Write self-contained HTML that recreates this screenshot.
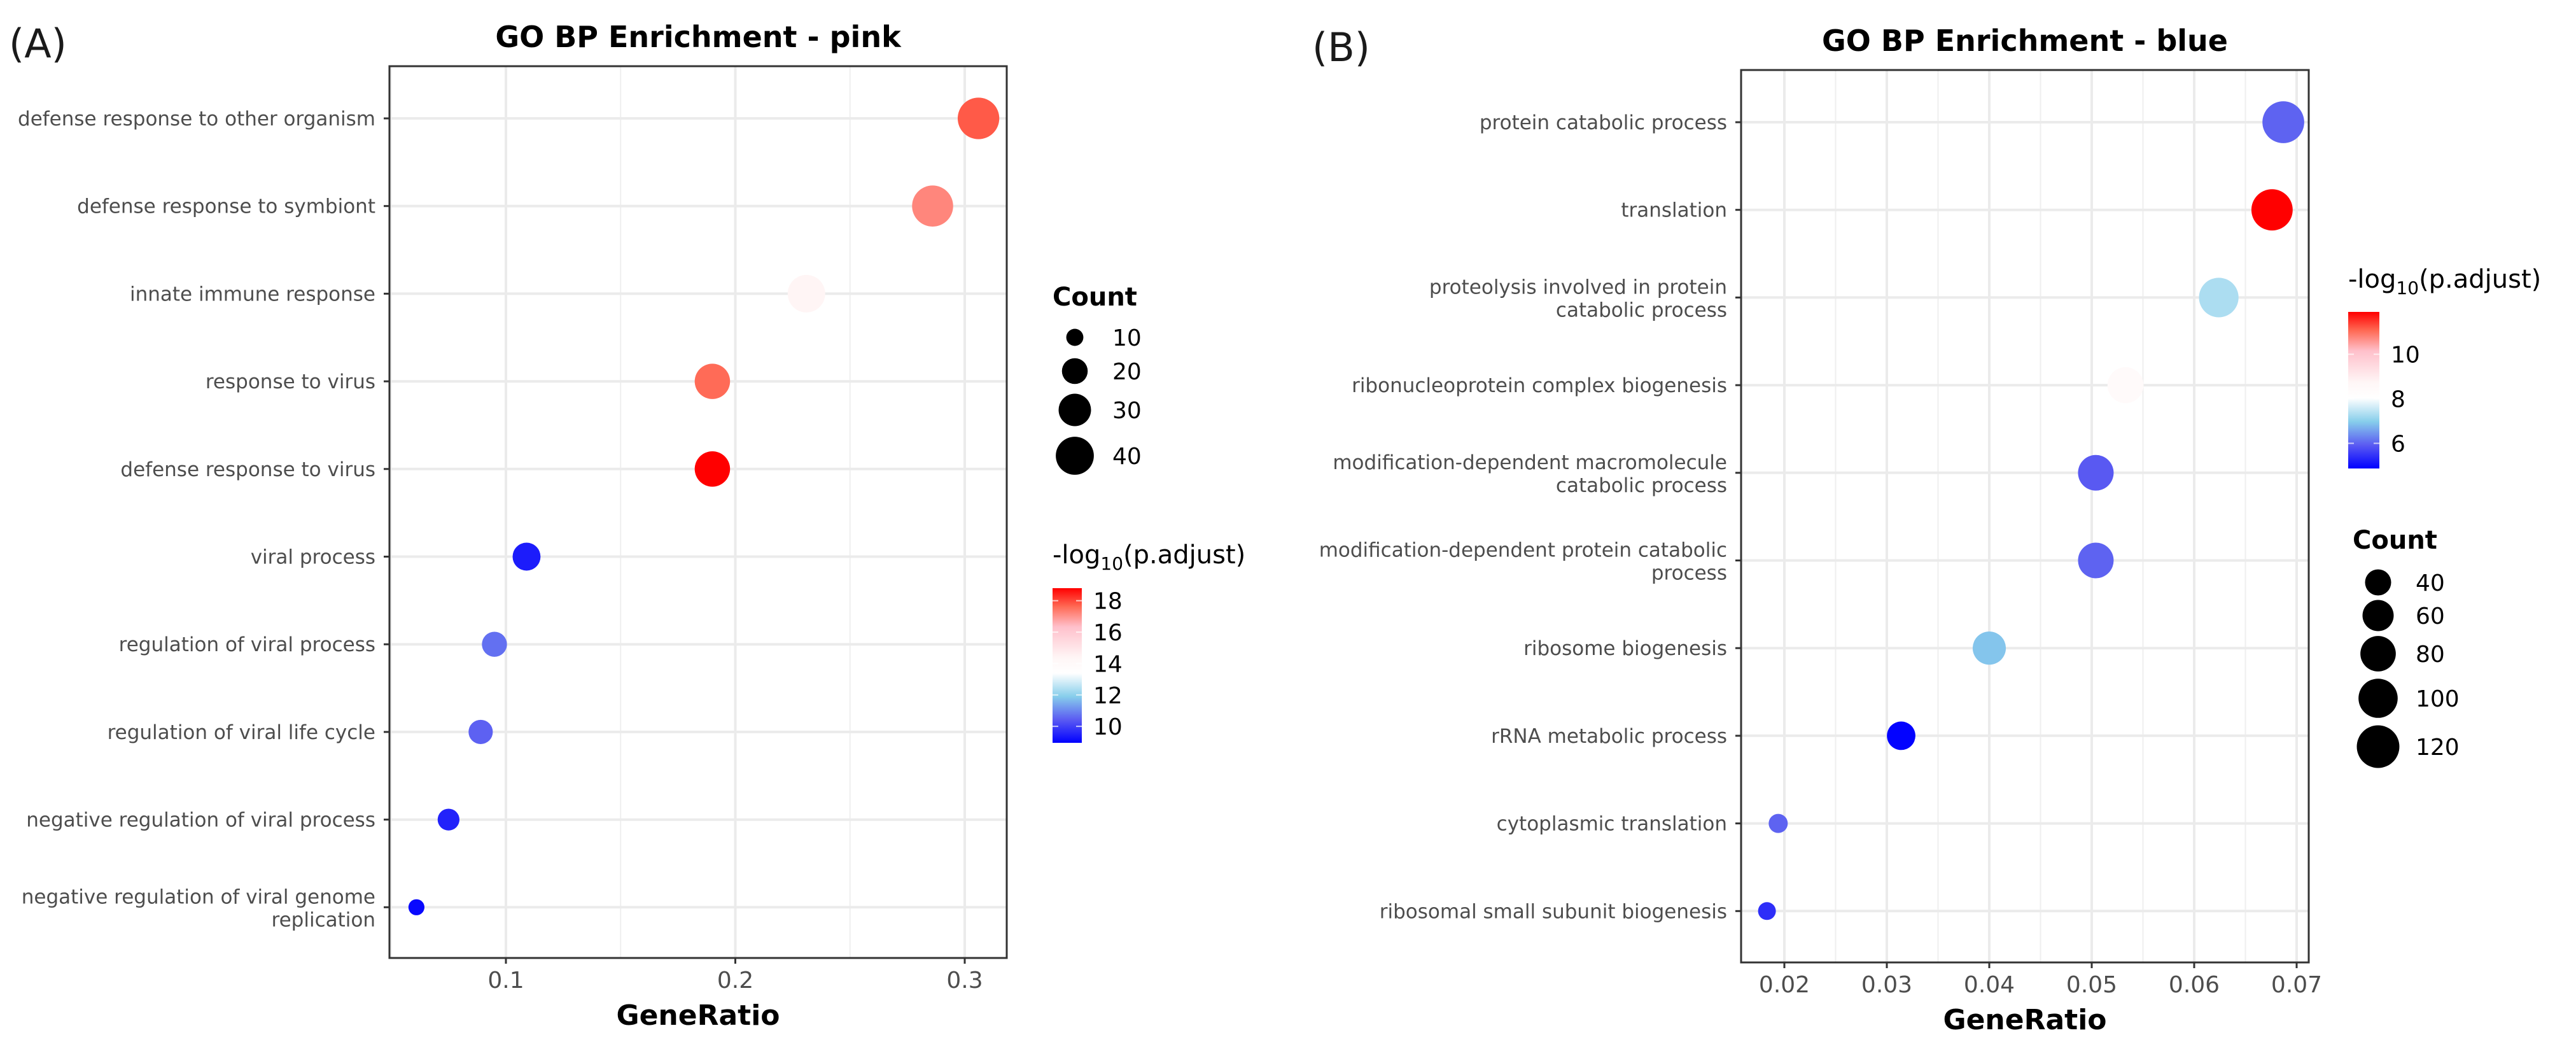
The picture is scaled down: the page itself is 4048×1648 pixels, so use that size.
<!DOCTYPE html>
<html><head><meta charset="utf-8"><style>
html,body{margin:0;padding:0;background:#fff}
svg{display:block}
text{font-family:"DejaVu Sans","Liberation Sans",sans-serif}
</style></head><body>
<svg id="fig" width="4048" height="1648" viewBox="0 0 4048 1648" xmlns="http://www.w3.org/2000/svg"></svg>
<script>
// Panel A data
const catsA = ["defense response to other organism","defense response to symbiont","innate immune response","response to virus","defense response to virus","viral process","regulation of viral process","regulation of viral life cycle","negative regulation of viral process","negative regulation of viral genome|replication"];
const ratioA = [0.306,0.286,0.231,0.190,0.190,0.109,0.095,0.089,0.075,0.061];
const countA = [47,46,39,35,35,23,19,18,15,9];
const padjA = [17.8,17.2,14.4,17.6,18.8,9.4,10.7,10.5,9.5,9.1];
const xTicksA = [0.1,0.2,0.3];
const xTickLabelsA = ["0.1","0.2","0.3"];
const sizeLegA = [10,20,30,40];
const colTicksA = [10,12,14,16,18];
// Panel B data
const catsB = ["protein catabolic process","translation","proteolysis involved in protein|catabolic process","ribonucleoprotein complex biogenesis","modification-dependent macromolecule|catabolic process","modification-dependent protein catabolic|process","ribosome biogenesis","rRNA metabolic process","cytoplasmic translation","ribosomal small subunit biogenesis"];
const ratioB = [0.0687,0.0676,0.0624,0.0533,0.0504,0.0504,0.0400,0.0314,0.0194,0.0183];
const countB = [115,112,102,83,81,81,69,49,19,16];
const padjB = [6.0,11.9,7.3,8.4,5.9,6.0,6.9,4.9,6.0,5.4];
const xTicksB = [0.02,0.03,0.04,0.05,0.06,0.07];
const xTickLabelsB = ["0.02","0.03","0.04","0.05","0.06","0.07"];
const sizeLegB = [40,60,80,100,120];
const colTicksB = [6,8,10];

const NS="http://www.w3.org/2000/svg";
const svg=document.getElementById('fig');
function mk(tag,attrs,parent){const e=document.createElementNS(NS,tag);for(const k in attrs)e.setAttribute(k,attrs[k]);(parent||svg).appendChild(e);return e;}
function lerp(a,b,t){return a+(b-a)*t;}
function hex(c){return [parseInt(c.substr(1,2),16),parseInt(c.substr(3,2),16),parseInt(c.substr(5,2),16)];}
const stops=[[0,"#0000ff"],[0.15,"#5b5bf2"],[0.3,"#87ceeb"],[0.45,"#ffffff"],[0.55,"#fff6f6"],[0.75,"#ffc0cb"],[0.88,"#ff6a55"],[1,"#ff0000"]];
function colorAt(t){t=Math.max(0,Math.min(1,t));for(let i=1;i<stops.length;i++){if(t<=stops[i][0]){const a=hex(stops[i-1][1]),b=hex(stops[i][1]);const u=(t-stops[i-1][0])/(stops[i][0]-stops[i-1][0]);return `rgb(${Math.round(lerp(a[0],b[0],u))},${Math.round(lerp(a[1],b[1],u))},${Math.round(lerp(a[2],b[2],u))})`;}}return stops[stops.length-1][1];}

function panel(p){
  const g=mk('g',{});
  
  
  const xS=v=>p.x0px+(v-p.x0v)*p.pxPer;
  const yS=i=>p.rowY0+i*p.rowStep;
  const dS=c=>p.dc+p.dd*Math.sqrt(c);
  const cS=v=>colorAt((v-p.cmin)/(p.cmax-p.cmin));
  mk('rect',{x:p.L,y:p.T,width:p.R-p.L,height:p.B-p.T,fill:'#fff'},g);
  for(let i=0;i<p.xt.length+1;i++){
    const v=p.xt[0]+(i-0.5)*(p.xt[1]-p.xt[0]);
    const x=xS(v); if(x>p.L&&x<p.R){const l=mk('line',{x1:x,x2:x,y1:p.T,y2:p.B,stroke:'#efefef','stroke-width':2},g);}
  }
  p.xt.forEach((v,i)=>{const x=xS(v);const l=mk('line',{x1:x,x2:x,y1:p.T,y2:p.B,stroke:'#ebebeb','stroke-width':4},g);
    mk('line',{x1:x,x2:x,y1:p.B,y2:p.B+9,stroke:'#333','stroke-width':3},g);
    const t=mk('text',{x:x,y:p.B+47,'font-size':36,fill:'#4d4d4d','text-anchor':'middle'},g);t.textContent=p.xl[i];
    });
  p.cats.forEach((c,i)=>{const y=yS(i);
    const l=mk('line',{x1:p.L,x2:p.R,y1:y,y2:y,stroke:'#ebebeb','stroke-width':4},g);
    mk('line',{x1:p.L-9,x2:p.L,y1:y,y2:y,stroke:'#333','stroke-width':3},g);
    const parts=c.split('|');
    const t=mk('text',{x:p.L-22,y:0,'font-size':31,fill:'#4d4d4d','text-anchor':'end'},g);
    
    if(parts.length==1){t.setAttribute('y',y+11);t.textContent=c;}
    else{parts.forEach((s,k)=>{const ts=mk('tspan',{x:p.L-22,y:y-6+k*36},t);ts.textContent=s;});}
  });
  p.cats.forEach((c,i)=>{const ci=mk('circle',{cx:xS(p.ratio[i]),cy:yS(i),r:dS(p.count[i])/2,fill:cS(p.padj[i])},g);
    });
  mk('rect',{x:p.L,y:p.T,width:p.R-p.L,height:p.B-p.T,fill:'none',stroke:'#333','stroke-width':3},g);
  let t=mk('text',{x:(p.L+p.R)/2,y:p.T-30,'font-size':46,'font-weight':'bold',fill:'#000','text-anchor':'middle'},g);t.textContent=p.title;
  
  t=mk('text',{x:(p.L+p.R)/2,y:p.B+105,'font-size':44,'font-weight':'bold',fill:'#000','text-anchor':'middle'},g);t.textContent='GeneRatio';
  
  t=mk('text',{x:p.tagX,y:p.tagY,'font-size':62,fill:'#1a1a1a'},g);t.textContent=p.tag;
  
  const sl=mk('g',{},g);
  t=mk('text',{x:p.sLegX,y:p.sTitleY,'font-size':40,'font-weight':'bold',fill:'#000'},sl);t.textContent='Count';
  p.sLeg.forEach((v,i)=>{const y=p.sY[i];
    const c=mk('circle',{cx:p.sCX,cy:y,r:dS(v)/2,fill:'#000'},sl);
    const tt=mk('text',{x:p.sLX,y:y+13,'font-size':36,fill:'#000'},sl);tt.textContent=v;});
  const cl=mk('g',{},g);
  t=mk('text',{x:p.cbX,y:p.cTitleY,'font-size':40,fill:'#000'},cl);
  t.innerHTML='-log<tspan font-size="28" dy="10">10</tspan><tspan dy="-10">(p.adjust)</tspan>';
  const gid='grad'+p.id;
  const lg=mk('linearGradient',{id:gid,x1:0,y1:1,x2:0,y2:0},mk('defs',{},cl));
  stops.forEach(s=>mk('stop',{offset:s[0],'stop-color':s[1]},lg));
  const cb=mk('rect',{x:p.cbX,y:p.cbT,width:p.cbW,height:p.cbB-p.cbT,fill:`url(#${gid})`},cl);
  
  const cy=v=>p.cbB-(v-p.cmin)/(p.cmax-p.cmin)*(p.cbB-p.cbT);
  p.cTicks.forEach(v=>{const y=cy(v);
    mk('line',{x1:p.cbX,x2:p.cbX+9,y1:y,y2:y,stroke:'#fff','stroke-width':2,opacity:0.7},cl);
    mk('line',{x1:p.cbX+p.cbW-9,x2:p.cbX+p.cbW,y1:y,y2:y,stroke:'#fff','stroke-width':2,opacity:0.7},cl);
    const tt=mk('text',{x:p.cbX+p.cbW+18,y:y+13,'font-size':36,fill:'#000'},cl);tt.textContent=v;});
}
panel({id:'A',cats:catsA,ratio:ratioA,count:countA,padj:padjA,xt:xTicksA,xl:xTickLabelsA,
 L:612,R:1582,T:104,B:1505,x0v:0.1,x0px:795,pxPer:3605,rowY0:186,rowStep:137.7,dc:-6,dd:10.4,
 cmin:8.95,cmax:18.8,title:'GO BP Enrichment - pink',tag:'(A)',tagX:14,tagY:90,
 sLegX:1654,sTitleY:480,sLeg:sizeLegA,sY:[530,583,644,716],sCX:1689,sLX:1748,
 cbX:1654,cTitleY:885,cbT:924,cbB:1167,cbW:46,cTicks:colTicksA});
panel({id:'B',cats:catsB,ratio:ratioB,count:countB,padj:padjB,xt:xTicksB,xl:xTickLabelsB,
 L:2736,R:3628,T:110,B:1512,x0v:0.02,x0px:2804,pxPer:16100,rowY0:192,rowStep:137.7,dc:5.6,dd:5.6,
 cmin:4.87,cmax:11.9,title:'GO BP Enrichment - blue',tag:'(B)',tagX:2062,tagY:96,
 sLegX:3697,sTitleY:862,sLeg:sizeLegB,sY:[915,967,1027,1097,1173],sCX:3737,sLX:3796,
 cbX:3690,cTitleY:452,cbT:490,cbB:736,cbW:49,cTicks:colTicksB});
</script>
</body></html>
